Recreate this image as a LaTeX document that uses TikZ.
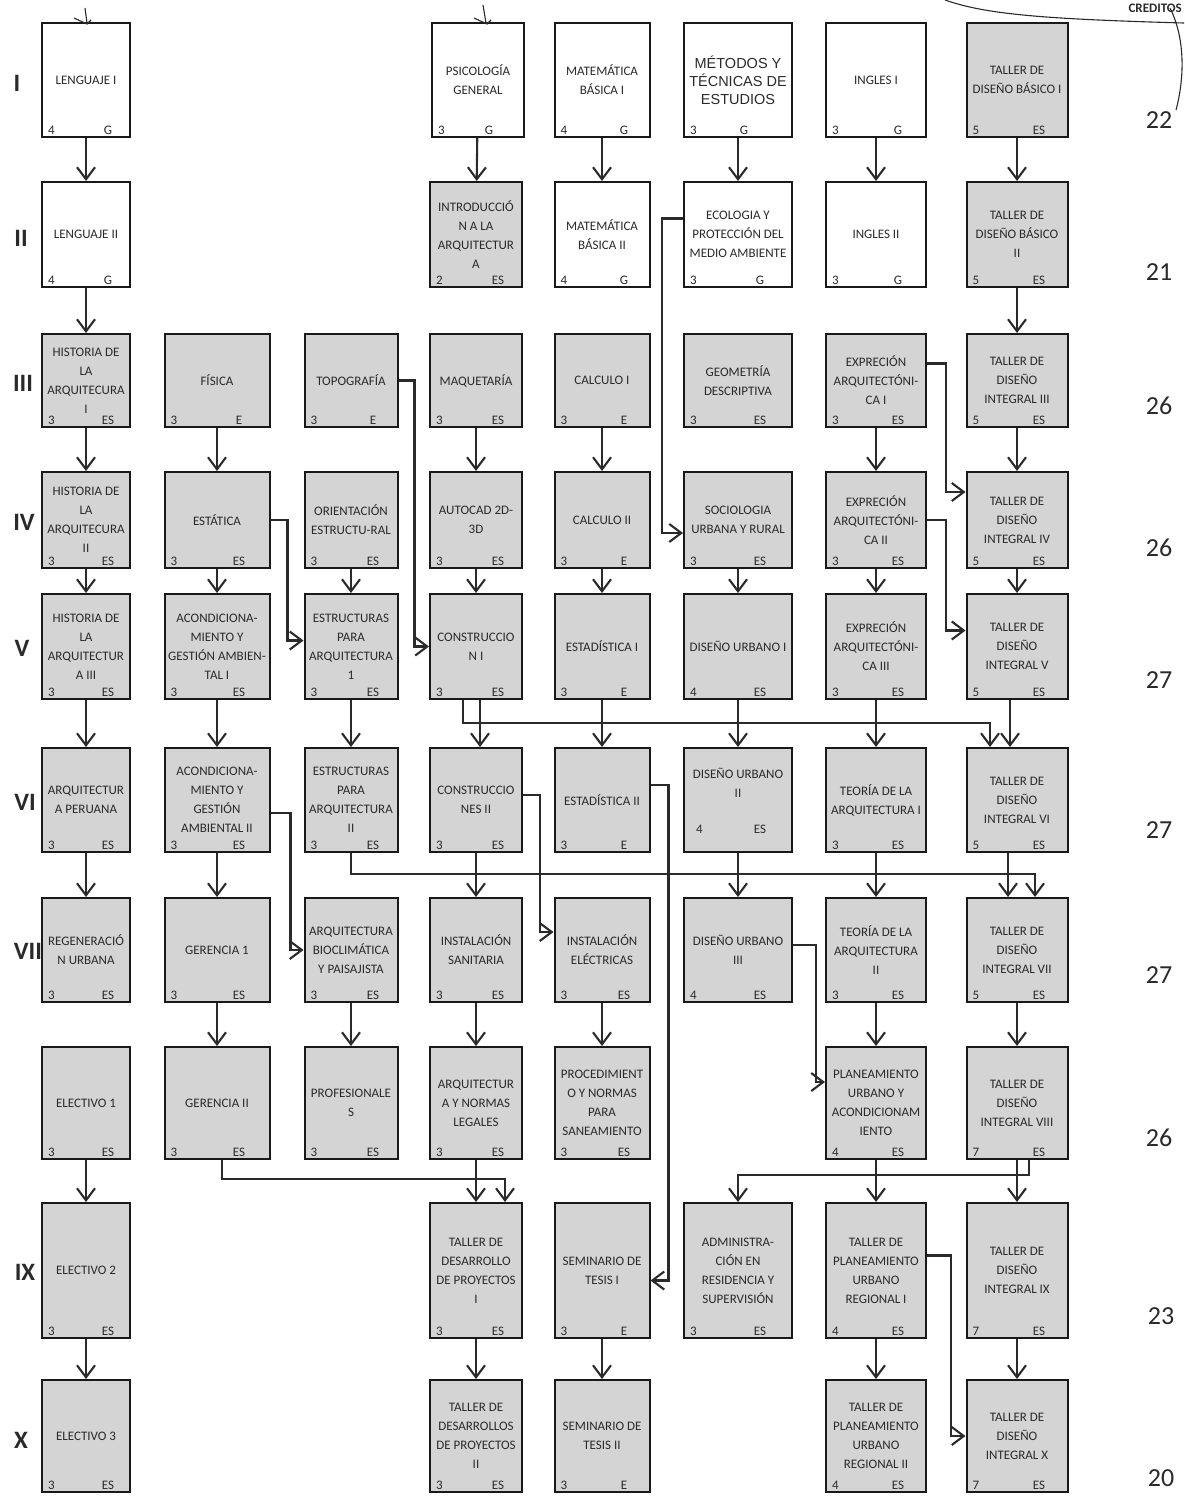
\documentclass[tikz,border=0pt]{standalone}
\usepackage{fontspec}
\setmainfont{Carlito}
\newfontfamily\metfont{Liberation Sans}
\usetikzlibrary{arrows.meta, positioning}
\definecolor{boxgray}{HTML}{D4D4D4}
\definecolor{inkgray}{HTML}{2A2A2A}

\begin{document}
\begin{tikzpicture}[
  x=1pt, y=-1pt,
  course/.style={
    rectangle,
    draw=black!90,
    line width=2pt,
    fill=boxgray,
    align=center,
    inner sep=1pt,
    text=inkgray,
    font=\fontsize{13}{19}\selectfont
  },
  blank/.style={course, fill=white},
  lbl/.style={inner sep=3pt, text=inkgray, font=\fontsize{13}{15}\selectfont},
  cr/.style={label={[lbl, anchor=south west, xshift=4pt]south west:#1}},
  tp/.style={label={[lbl, anchor=south, xshift=22pt]south:#1}},
  colA/.style={minimum width=88pt}, colB/.style={minimum width=105pt},
  colC/.style={minimum width=93pt}, colD/.style={minimum width=92pt},
  colE/.style={minimum width=95pt}, colF/.style={minimum width=108pt},
  colG/.style={minimum width=100pt}, colH/.style={minimum width=101pt},
  rowI/.style={minimum height=114pt}, rowII/.style={minimum height=105pt},
  rowIII/.style={minimum height=93pt}, rowIV/.style={minimum height=96pt},
  rowV/.style={minimum height=105pt}, rowVI/.style={minimum height=104pt},
  rowVII/.style={minimum height=104pt}, rowVIII/.style={minimum height=112pt},
  rowIX/.style={minimum height=135pt}, rowX/.style={minimum height=112pt},
  flow/.style={draw=inkgray, line width=2.1pt, -{Straight Barb[length=12pt, width=18pt]}},
  sem/.style={text=inkgray, font=\fontsize{25}{25}\selectfont\bfseries},
  total/.style={text=inkgray, font=\fontsize{26}{26}\selectfont},
  hand/.style={draw=inkgray, line width=1.1pt}
]
  \useasboundingbox (0,0) rectangle (1184,1496);

  % Semestre I
  \node[blank, colA, rowI, cr=4, tp=G] (len1) at (86,80) {LENGUAJE I};
  \node[blank, colD, rowI, cr=3, label={[lbl, anchor=south, xshift=11pt]south:G}] (psico) at (478,80) {PSICOLOGÍA\\GENERAL};
  \node[blank, colE, rowI, cr=4, tp=G] (mat1) at (602,80) {MATEMÁTICA\\BÁSICA I};
  \node[blank, colF, rowI, cr=3, label={[lbl, anchor=south, xshift=6pt]south:G},
        font=\metfont\fontsize{14.5}{18}\selectfont] (metodos) at (738,80) {MÉTODOS Y\\TÉCNICAS DE\\ESTUDIOS};
  \node[blank, colG, rowI, cr=3, tp=G] (ing1) at (876,80) {INGLES I};
  \node[course, colH, rowI, cr=5, tp=ES] (tdb1) at (1017,80) {TALLER DE\\DISEÑO BÁSICO I};

  % Semestre II
  \node[blank, colA, rowII, cr=4, tp=G] (len2) at (86,234.5) {LENGUAJE II};
  \node[course, colD, rowII, cr=2, tp=ES] (intro) at (476,234.5) {INTRODUCCIÓ\\N A LA\\ARQUITECTUR\\A};
  \node[blank, colE, rowII, cr=4, tp=G] (mat2) at (602,234.5) {MATEMÁTICA\\BÁSICA II};
  \node[blank, colF, rowII, cr=3, tp=G] (ecol) at (738,234.5) {ECOLOGIA Y\\PROTECCIÓN DEL\\MEDIO AMBIENTE};
  \node[blank, colG, rowII, cr=3, tp=G] (ing2) at (876,234.5) {INGLES II};
  \node[course, colH, rowII, cr=5, tp=ES] (tdb2) at (1017,234.5) {TALLER DE\\DISEÑO BÁSICO\\II};

  % Semestre III
  \node[course, colA, rowIII, cr=3, tp=ES] (hist1) at (86,380.5) {HISTORIA DE\\LA\\ARQUITECURA\\I};
  \node[course, colB, rowIII, cr=3, tp=E] (fis) at (217,380.5) {FÍSICA};
  \node[course, colC, rowIII, cr=3, tp=E] (topo) at (351,380.5) {TOPOGRAFÍA};
  \node[course, colD, rowIII, cr=3, tp=ES] (maq) at (476,380.5) {MAQUETARÍA};
  \node[course, colE, rowIII, cr=3, tp=E] (calc1) at (602,380.5) {CALCULO I};
  \node[course, colF, rowIII, cr=3, tp=ES] (geom) at (738,380.5) {GEOMETRÍA\\DESCRIPTIVA};
  \node[course, colG, rowIII, cr=3, tp=ES] (exp1) at (876,380.5) {EXPRECIÓN\\ARQUITECTÓNI-\\CA I};
  \node[course, colH, rowIII, cr=5, tp=ES] (tdi3) at (1017,380.5) {TALLER DE\\DISEÑO\\INTEGRAL III};

  % Semestre IV
  \node[course, colA, rowIV, cr=3, tp=ES] (hist2) at (86,520) {HISTORIA DE\\LA\\ARQUITECURA\\II};
  \node[course, colB, rowIV, cr=3, tp=ES] (estat) at (217,520) {ESTÁTICA};
  \node[course, colC, rowIV, cr=3, tp=ES] (orient) at (351,520) {ORIENTACIÓN\\ESTRUCTU-RAL};
  \node[course, colD, rowIV, cr=3, tp=ES] (autocad) at (476,520) {AUTOCAD 2D-\\3D};
  \node[course, colE, rowIV, cr=3, tp=E] (calc2) at (602,520) {CALCULO II};
  \node[course, colF, rowIV, cr=3, tp=ES] (socio) at (738,520) {SOCIOLOGIA\\URBANA Y RURAL};
  \node[course, colG, rowIV, cr=3, tp=ES] (exp2) at (876,520) {EXPRECIÓN\\ARQUITECTÓNI-\\CA II};
  \node[course, colH, rowIV, cr=5, tp=ES] (tdi4) at (1017,520) {TALLER DE\\DISEÑO\\INTEGRAL IV};

  % Semestre V
  \node[course, colA, rowV, cr=3, tp=ES] (hist3) at (86,646.5) {HISTORIA DE\\LA\\ARQUITECTUR\\A III};
  \node[course, colB, rowV, cr=3, tp=ES] (acond1) at (217,646.5) {ACONDICIONA-\\MIENTO Y\\GESTIÓN AMBIEN-\\TAL I};
  \node[course, colC, rowV, cr=3, tp=ES] (estr1) at (351,646.5) {ESTRUCTURAS\\PARA\\ARQUITECTURA\\1};
  \node[course, colD, rowV, cr=3, tp=ES] (cons1) at (476,646.5) {CONSTRUCCIO\\N I};
  \node[course, colE, rowV, cr=3, tp=E] (est1) at (602,646.5) {ESTADÍSTICA I};
  \node[course, colF, rowV, cr=4, tp=ES] (du1) at (738,646.5) {DISEÑO URBANO I};
  \node[course, colG, rowV, cr=3, tp=ES] (exp3) at (876,646.5) {EXPRECIÓN\\ARQUITECTÓNI-\\CA III};
  \node[course, colH, rowV, cr=5, tp=ES] (tdi5) at (1017,646.5) {TALLER DE\\DISEÑO\\INTEGRAL V};

  % Semestre VI
  \node[course, colA, rowVI, cr=3, tp=ES] (arqper) at (86,800) {ARQUITECTUR\\A PERUANA};
  \node[course, colB, rowVI, cr=3, tp=ES] (acond2) at (217,800) {ACONDICIONA-\\MIENTO Y\\GESTIÓN\\AMBIENTAL II};
  \node[course, colC, rowVI, cr=3, tp=ES] (estr2) at (351,800) {ESTRUCTURAS\\PARA\\ARQUITECTURA\\II};
  \node[course, colD, rowVI, cr=3, tp=ES] (cons2) at (476,800) {CONSTRUCCIO\\NES II};
  \node[course, colE, rowVI, cr=3, tp=E] (est2) at (602,800) {ESTADÍSTICA II};
  \node[course, colF, rowVI,
        label={[lbl, anchor=south west, xshift=10pt, yshift=16pt]south west:4},
        label={[lbl, anchor=south, xshift=22pt, yshift=16pt]south:ES}] (du2) at (738,800) {DISEÑO URBANO\\II\\[16pt]};
  \node[course, colG, rowVI, cr=3, tp=ES] (teo1) at (876,800) {TEORÍA DE LA\\ARQUITECTURA I};
  \node[course, colH, rowVI, cr=5, tp=ES] (tdi6) at (1017,800) {TALLER DE\\DISEÑO\\INTEGRAL VI};

  % Semestre VII
  \node[course, colA, rowVII, cr=3, tp=ES] (regen) at (86,950) {REGENERACIÓ\\N URBANA};
  \node[course, colB, rowVII, cr=3, tp=ES] (ger1) at (217,950) {GERENCIA 1};
  \node[course, colC, rowVII, cr=3, tp=ES] (bioclim) at (351,950) {ARQUITECTURA\\BIOCLIMÁTICA\\Y PAISAJISTA};
  \node[course, colD, rowVII, cr=3, tp=ES] (sanit) at (476,950) {INSTALACIÓN\\SANITARIA};
  \node[course, colE, rowVII, cr=3, tp=ES] (electr) at (602,950) {INSTALACIÓN\\ELÉCTRICAS};
  \node[course, colF, rowVII, cr=4, tp=ES] (du3) at (738,950) {DISEÑO URBANO\\III};
  \node[course, colG, rowVII, cr=3, tp=ES] (teo2) at (876,950) {TEORÍA DE LA\\ARQUITECTURA\\II};
  \node[course, colH, rowVII, cr=5, tp=ES] (tdi7) at (1017,950) {TALLER DE\\DISEÑO\\INTEGRAL VII};

  % Semestre VIII
  \node[course, colA, rowVIII, cr=3, tp=ES] (elec1) at (86,1103) {ELECTIVO 1};
  \node[course, colB, rowVIII, cr=3, tp=ES] (ger2) at (217,1103) {GERENCIA II};
  \node[course, colC, rowVIII, cr=3, tp=ES] (prof) at (351,1103) {PROFESIONALE\\S};
  \node[course, colD, rowVIII, cr=3, tp=ES] (normas) at (476,1103) {ARQUITECTUR\\A Y NORMAS\\LEGALES};
  \node[course, colE, rowVIII, cr=3, tp=ES] (proced) at (602,1103) {PROCEDIMIENT\\O Y NORMAS\\PARA\\SANEAMIENTO};
  \node[course, colG, rowVIII, cr=4, tp=ES] (planurb) at (876,1103) {PLANEAMIENTO\\URBANO Y\\ACONDICIONAM\\IENTO};
  \node[course, colH, rowVIII, cr=7, tp=ES] (tdi8) at (1017,1103) {TALLER DE\\DISEÑO\\INTEGRAL VIII};

  % Semestre IX
  \node[course, colA, rowIX, cr=3, tp=ES] (elec2) at (86,1270.5) {ELECTIVO 2};
  \node[course, colD, rowIX, cr=3, tp=ES] (tdp1) at (476,1270.5) {TALLER DE\\DESARROLLO\\DE PROYECTOS\\I};
  \node[course, colE, rowIX, cr=3, tp=E] (sem1) at (602,1270.5) {SEMINARIO DE\\TESIS I};
  \node[course, colF, rowIX, cr=3, tp=ES] (admin) at (738,1270.5) {ADMINISTRA-\\CIÓN EN\\RESIDENCIA Y\\SUPERVISIÓN};
  \node[course, colG, rowIX, cr=4, tp=ES] (tpu1) at (876,1270.5) {TALLER DE\\PLANEAMIENTO\\URBANO\\REGIONAL I};
  \node[course, colH, rowIX, cr=7, tp=ES] (tdi9) at (1017,1270.5) {TALLER DE\\DISEÑO\\INTEGRAL IX};

  % Semestre X
  \node[course, colA, rowX, cr=3, tp=ES] (elec3) at (86,1436) {ELECTIVO 3};
  \node[course, colD, rowX, cr=3, tp=ES] (tdp2) at (476,1436) {TALLER DE\\DESARROLLOS\\DE PROYECTOS\\II};
  \node[course, colE, rowX, cr=3, tp=E] (sem2) at (602,1436) {SEMINARIO DE\\TESIS II};
  \node[course, colG, rowX, cr=4, tp=ES] (tpu2) at (876,1436) {TALLER DE\\PLANEAMIENTO\\URBANO\\REGIONAL II};
  \node[course, colH, rowX, cr=7, tp=ES] (tdi10) at (1017,1436) {TALLER DE\\DISEÑO\\INTEGRAL X};

  % Semestres
  \node[sem] (sI) at (17,83) {I};
  \node[sem] (sII) at (21,238) {II};
  \node[sem] (sIII) at (23,383) {III};
  \node[sem] (sIV) at (24,522) {IV};
  \node[sem] (sV) at (22,648) {V};
  \node[sem] (sVI) at (25,802) {VI};
  \node[sem] (sVII) at (28,951) {VII};
  \node[sem] (sIX) at (25,1272) {IX};
  \node[sem] (sX) at (21,1440) {X};

  % Creditos
  \node[total] (tI) at (1159,120) {22};
  \node[total] (tII) at (1159,272) {21};
  \node[total] (tIII) at (1159,406) {26};
  \node[total] (tIV) at (1159,548) {26};
  \node[total] (tV) at (1159,680) {27};
  \node[total] (tVI) at (1159,830) {27};
  \node[total] (tVII) at (1159,975) {27};
  \node[total] (tVIII) at (1159,1138) {26};
  \node[total] (tIX) at (1161,1316) {23};
  \node[total] (tX) at (1161,1478) {20};
  \node[anchor=east, inner sep=1pt, text=inkgray, font=\fontsize{13}{13}\selectfont\bfseries] (cred) at (1183,8) {CREDITOS};

  % Trazos a mano
  \draw[hand] (945,0) .. controls (985,14) and (1040,19) .. (1184,23);
  \draw[hand] (1170,8) .. controls (1186,40) and (1184,80) .. (1176,110);
  \draw[hand] (74,18) -- (87,24) -- (91,20);
  \draw[hand] (85,8) -- (87,23);
  \draw[hand] (474,18) -- (487,24) -- (491,20);
  \draw[hand] (483,5) -- (486,23);

  % Columna 1
  \draw[flow] (len1) -- (len2);
  \draw[flow] (len2) -- (hist1);
  \draw[flow] (hist1) -- (hist2);
  \draw[flow] (hist2) -- (hist3);
  \draw[flow] (hist3) -- (arqper);
  \draw[flow] (arqper) -- (regen);
  \draw[flow] (elec1) -- (elec2);
  \draw[flow] (elec2) -- (elec3);

  % Columna 2
  \draw[flow] (fis) -- (estat);
  \draw[flow] (estat) -- (acond1);
  \draw[flow] (acond1) -- (acond2);
  \draw[flow] (acond2) -- (ger1);
  \draw[flow] (ger1) -- (ger2);
  \draw[flow] (estat.east) -- ++(17,0) |- ([yshift=6pt]estr1.west);
  \draw[flow] ([yshift=-13pt]acond2.east) -- ++(20,0) |- (bioclim.west);
  \draw[flow] ([xshift=5pt]ger2.south) -- ++(0,19) -| ([xshift=29pt]tdp1.north);

  % Columna 3
  \draw[flow] (orient) -- (estr1);
  \draw[flow] (estr1) -- (estr2);
  \draw[flow] (bioclim) -- (prof);
  \draw[flow] (topo.east) -- ++(16,0) |- (cons1.west);
  \draw[flow] (estr2.south) -- ++(0,21) -| ([xshift=18pt]tdi7.north);

  % Columna 4
  \draw[flow] (psico) -- (intro);
  \draw[flow] (maq) -- (autocad);
  \draw[flow] (autocad) -- (cons1);
  \draw[flow] ([xshift=4pt]cons1.south) -- ([xshift=4pt]cons2.north);
  \draw[flow] (cons2) -- (sanit);
  \draw[flow] (sanit) -- (normas);
  \draw[flow] (normas) -- (tdp1);
  \draw[flow] (tdp1) -- (tdp2);
  \draw[flow] ([xshift=-13pt]cons1.south) -- ++(0,23) -| ([xshift=-27pt]tdi6.north);
  \draw[flow] ([yshift=5pt]cons2.east) -- ++(17,0) |- ([yshift=18pt]electr.west);

  % Columna 5
  \draw[flow] (mat1) -- (mat2);
  \draw[flow] (calc1) -- (calc2);
  \draw[flow] (calc2) -- (est1);
  \draw[flow] (est1) -- (est2);
  \draw[flow] (electr) -- (proced);
  \draw[flow] (sem1) -- (sem2);
  \draw[flow] ([yshift=15pt]est2.east) -- ++(18,0) |- ([yshift=-10pt]sem1.east);

  % Columna 6
  \draw[flow] (metodos) -- (ecol);
  \draw[flow] (socio) -- (du1);
  \draw[flow] (du1) -- (du2);
  \draw[flow] (du2) -- (du3);
  \draw[flow] ([yshift=16pt]ecol.west) -- ++(-21,0) |- ([yshift=-13pt]socio.west);
  \draw[flow] ([yshift=5pt]du3.east) -- ++(23,0) |- ([yshift=21pt]planurb.west);

  % Columna 7
  \draw[flow] (ing1) -- (ing2);
  \draw[flow] (exp1) -- (exp2);
  \draw[flow] (exp2) -- (exp3);
  \draw[flow] (exp3) -- (teo1);
  \draw[flow] (teo1) -- (teo2);
  \draw[flow] (teo2) -- (planurb);
  \draw[flow] (planurb) -- (tpu1);
  \draw[flow] (tpu1) -- (tpu2);
  \draw[flow] ([yshift=17pt]exp1.east) -- ++(19,0) |- ([yshift=28pt]tdi4.west);
  \draw[flow] (exp2.east) -- ++(19,0) |- ([yshift=16pt]tdi5.west);
  \draw[flow] ([yshift=15pt]tpu1.east) -- ++(24,0) |- (tdi10.west);

  % Columna 8
  \draw[flow] (tdb1) -- (tdb2);
  \draw[flow] (tdb2) -- (tdi3);
  \draw[flow] (tdi3) -- (tdi4);
  \draw[flow] (tdi4) -- (tdi5);
  \draw[flow] ([xshift=-7pt]tdi5.south) -- ([xshift=-7pt]tdi6.north);
  \draw[flow] ([xshift=-9pt]tdi6.south) -- ([xshift=-9pt]tdi7.north);
  \draw[flow] (tdi7) -- (tdi8);
  \draw[flow] (tdi8) -- (tdi9);
  \draw[flow] (tdi9) -- (tdi10);
  \draw[flow] ([xshift=12pt]tdi8.south) -- ++(0,15) -| (admin.north);
\end{tikzpicture}
\end{document}
